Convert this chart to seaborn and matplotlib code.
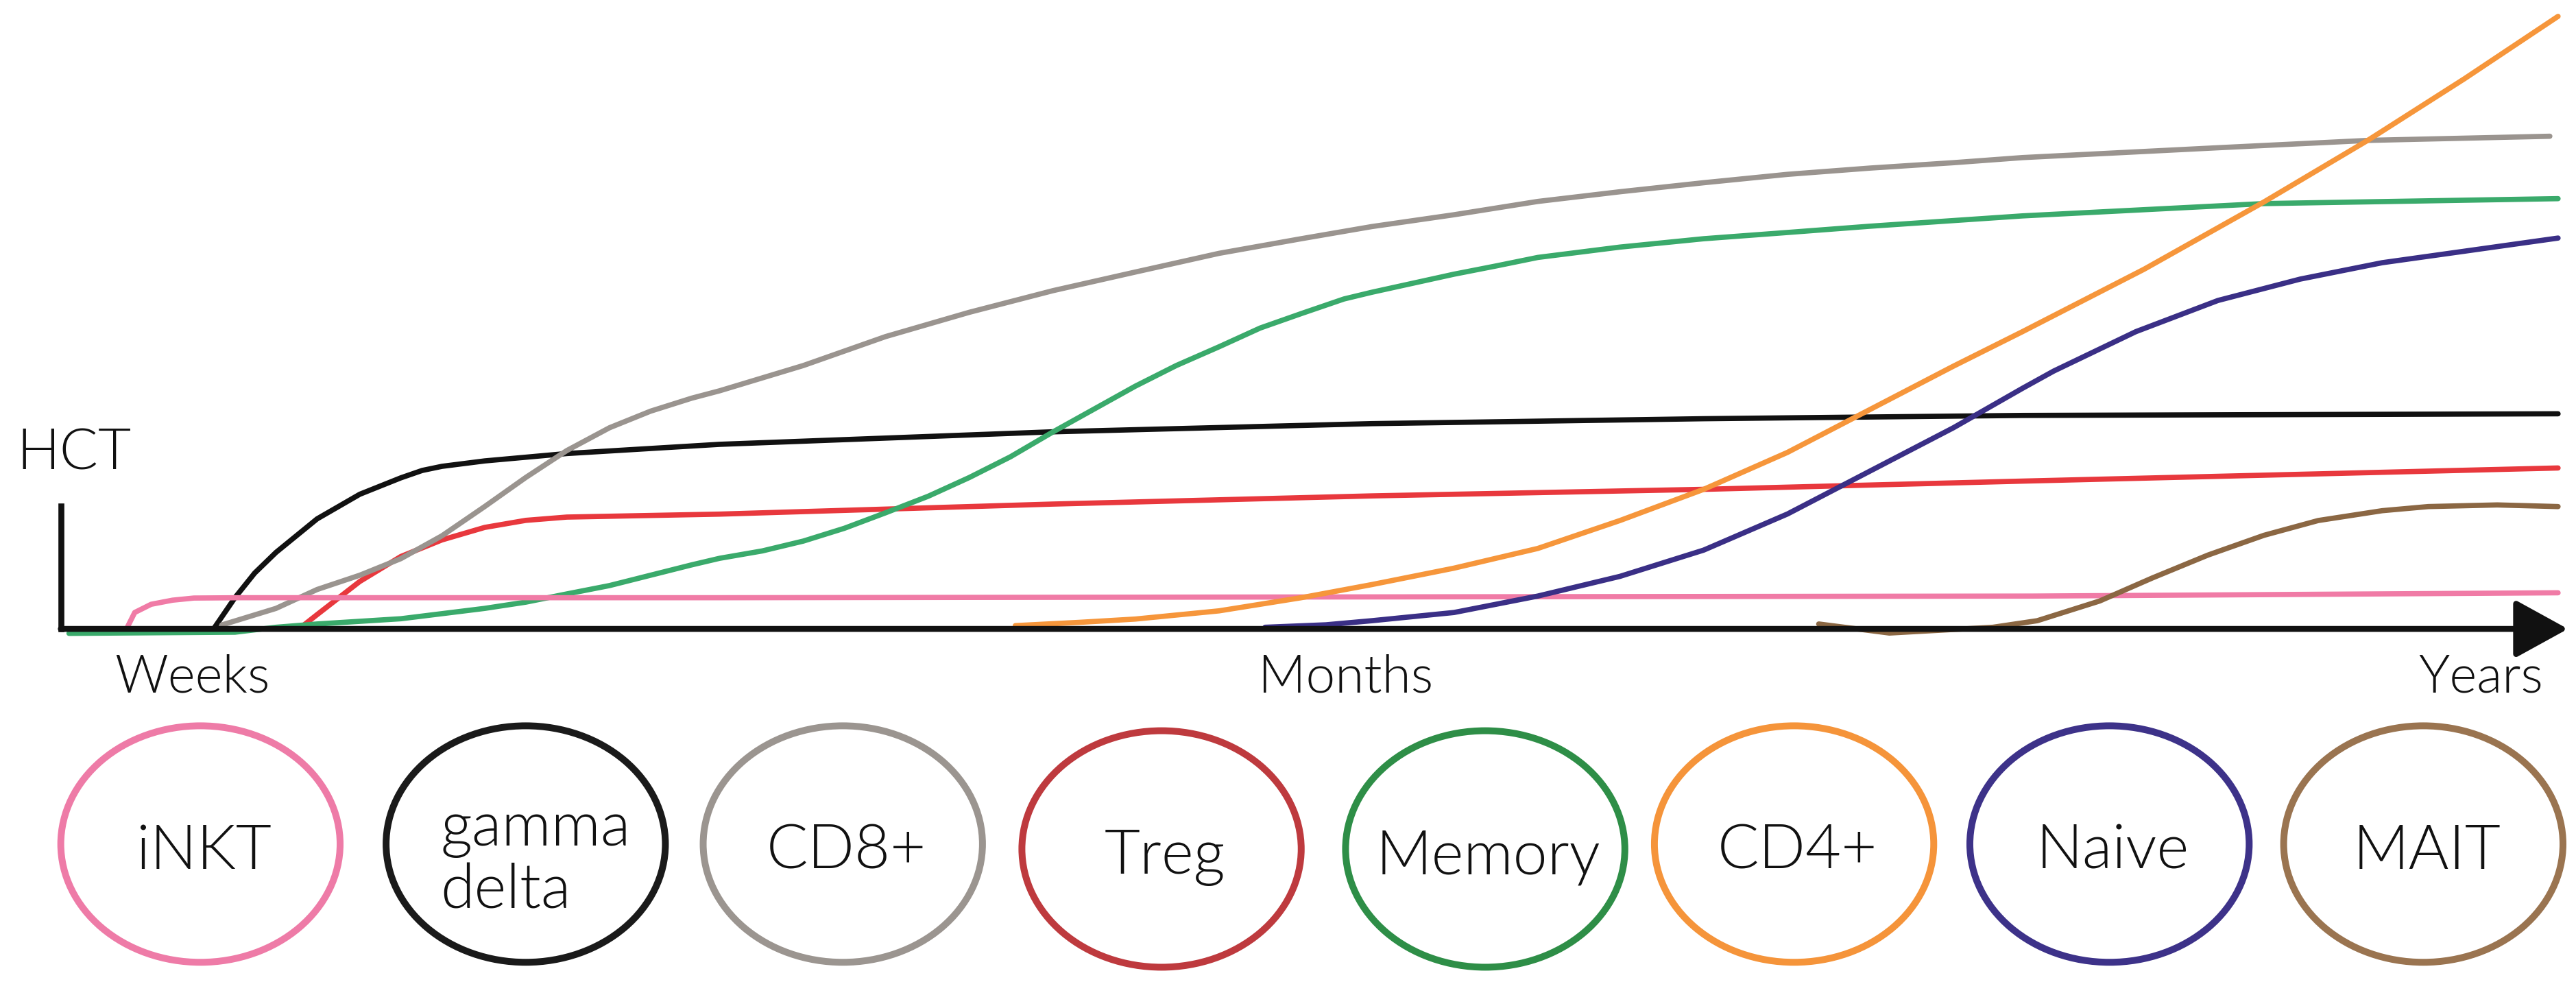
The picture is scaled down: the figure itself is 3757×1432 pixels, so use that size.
import numpy as np
import pandas as pd
import matplotlib
matplotlib.use('Agg')
import matplotlib.pyplot as plt
from matplotlib.patches import Ellipse
import seaborn as sns

# ---------------------------------------------------------------
# data: schematic reconstitution after HCT (time vs level, arbitrary units)
# ---------------------------------------------------------------
cells = ['iNKT', 'gamma\ndelta', 'CD8+', 'Treg', 'Memory', 'CD4+', 'Naive', 'MAIT']

inkt_t = [40, 45, 55, 68, 81, 110, 400, 800, 1200, 1520]
inkt_lv = [0, 10, 15, 17.5, 18.8, 19, 19, 19.5, 20, 22]

gd_t = [93, 106, 118, 131, 156, 182, 207, 220, 232, 258, 308, 401, 603, 798, 1000, 1194, 1520]
gd_lv = [0, 19, 34, 46.6, 67, 82, 92, 96.5, 99, 102.3, 106.8, 112.4, 120, 125, 128, 130, 131]

cd8_t = [98, 131, 156, 182, 207, 232, 258, 283, 308, 334, 359, 384, 401, 452, 502, 553, 604,
         654, 705, 755, 798, 848, 899, 949, 1000, 1051, 1101, 1152, 1194, 1313, 1405, 1515]
cd8_lv = [2.4, 12.5, 24, 32.7, 42.8, 56.7, 74.5, 92.2, 108.6, 122.5, 132.6, 140.5, 145, 160.4,
          178, 192.8, 206, 217.3, 228.7, 237.6, 245, 252.2, 260.3, 266.2, 271.7, 276.8, 280.6,
          283.9, 287, 293, 297.5, 300]

treg_t = [148, 156, 169, 182, 207, 232, 258, 283, 308, 401, 603, 798, 1000, 1194, 1520]
treg_lv = [2.4, 8.7, 18.8, 28.9, 44.1, 54.2, 61.8, 66.1, 68.1, 69.9, 76, 81, 85, 90, 98]

mem_t = [5, 106, 131, 156, 207, 258, 283, 308, 334, 359, 384, 401, 427, 452, 477, 502, 528,
         553, 578, 604, 629, 654, 679, 705, 730, 755, 781, 798, 823, 848, 874, 899, 949,
         1000, 1051, 1101, 1194, 1341, 1520]
mem_lv = [-2.7, -2, 1, 3, 6.2, 12.5, 16.3, 21.3, 26.4, 32.7, 39, 43, 47.5, 53.5, 61.3, 70.7,
          80.8, 92.2, 104.8, 120, 133.9, 147.8, 160.4, 171.8, 183.2, 192, 200.9, 205, 210.5,
          216, 221.1, 226.2, 232.5, 237.6, 241.4, 245.2, 251.5, 259, 262]

cd4_t = [581, 620, 654, 705, 755, 798, 848, 899, 949, 1000, 1051, 1101, 1152, 1194,
         1268, 1341, 1405, 1463, 1520]
cd4_lv = [2, 4, 6, 11, 19, 27, 37, 49, 66, 85, 107.5, 133.5, 160, 181, 219, 260, 298,
          335, 373]

naive_t = [733, 770, 798, 848, 899, 949, 1000, 1051, 1101, 1152, 1194, 1213, 1263, 1313,
           1363, 1413, 1463, 1520]
naive_lv = [1, 2.5, 5, 10, 20, 32, 48, 70, 96, 122.5, 146.5, 157, 181, 200, 213, 223,
            230, 238]

mait_t = [1070, 1113, 1176, 1203, 1241, 1273, 1307, 1341, 1374, 1413, 1441, 1483, 1520]
mait_lv = [3, -2.5, 1, 5, 17, 31, 45, 57, 66, 72, 74.5, 75.5, 74.5]

series_t = [inkt_t, gd_t, cd8_t, treg_t, mem_t, cd4_t, naive_t, mait_t]
series_lv = [inkt_lv, gd_lv, cd8_lv, treg_lv, mem_lv, cd4_lv, naive_lv, mait_lv]

line_colors = ['#F07BA6', '#111111', '#9A948F', '#E8383D', '#3AAA6B', '#F6963B', '#3A2F86', '#8B6743']
ring_colors = ['#EE7BA7', '#1A1A1A', '#9B9590', '#BE3A3E', '#2E8E47', '#F5943A', '#3D3289', '#9A7450']

time_labels = ['Weeks', 'Months', 'Years']
time_pos = [80, 782, 1473]

# legend row (ring centres along the time axis, below the baseline)
ring_x = [85, 283, 476, 670, 867, 1055, 1247, 1438]
ring_y = [-131, -131, -131, -134, -134, -131, -131, -131]

# ---------------------------------------------------------------
# long-form table for seaborn
# ---------------------------------------------------------------
frames = []
for name, t, lv in zip(cells, series_t, series_lv):
    frames.append(pd.DataFrame({'t': t, 'level': lv, 'cell': name}))
df = pd.concat(frames, ignore_index=True)

sns.set_style('white')
plt.rcParams['font.family'] = ['Lato', 'DejaVu Sans']

fig = plt.figure(figsize=(15.681, 5.977), dpi=239.6)
ax = fig.add_axes([0, 0, 1, 1])

draw_order = ['gamma\ndelta', 'Treg', 'CD8+', 'Memory', 'iNKT', 'CD4+', 'Naive', 'MAIT']
pal = dict(zip(cells, line_colors))
sns.lineplot(data=df, x='t', y='level', hue='cell', hue_order=draw_order, palette=pal,
             estimator=None, sort=False, legend=False, linewidth=2.3, ax=ax)
for ln in ax.lines:
    ln.set_solid_joinstyle('round')

# axes drawn as in the schematic
ax.plot([0, 0], [75, 0], color='#111111', lw=2.6, solid_capstyle='projecting')
ax.annotate('', xy=(1526, 0), xytext=(0, 0),
            arrowprops=dict(arrowstyle='-|>,head_length=0.4,head_width=0.22',
                            mutation_scale=50, lw=2.6, color='#111111',
                            shrinkA=0, shrinkB=0))

txt = dict(color='#111111', fontweight=300)
ax.text(-27, 97, 'HCT', fontsize=25, ha='left', va='baseline', **txt)
for lab, x in zip(time_labels, time_pos):
    ax.text(x, -38.6, lab, fontsize=23, ha='center', va='baseline', **txt)

# cell-type rings
for name, col, x, y in zip(cells, ring_colors, ring_x, ring_y):
    ax.add_patch(Ellipse((x, y), 170, 144, fill=False, edgecolor=col, lw=3.0))
    if '\n' in name:
        ax.text(x + 6, y + 26, name, fontsize=27, ha='center', va='top',
                multialignment='left', linespacing=1.12, **txt)
    else:
        ax.text(x + 2, y - 15, name, fontsize=27, ha='center', va='baseline', **txt)

ax.set_xlim(-37, 1531)
ax.set_ylim(-215, 383)
ax.axis('off')

fig.savefig('out.png', dpi=239.6, facecolor='white')
